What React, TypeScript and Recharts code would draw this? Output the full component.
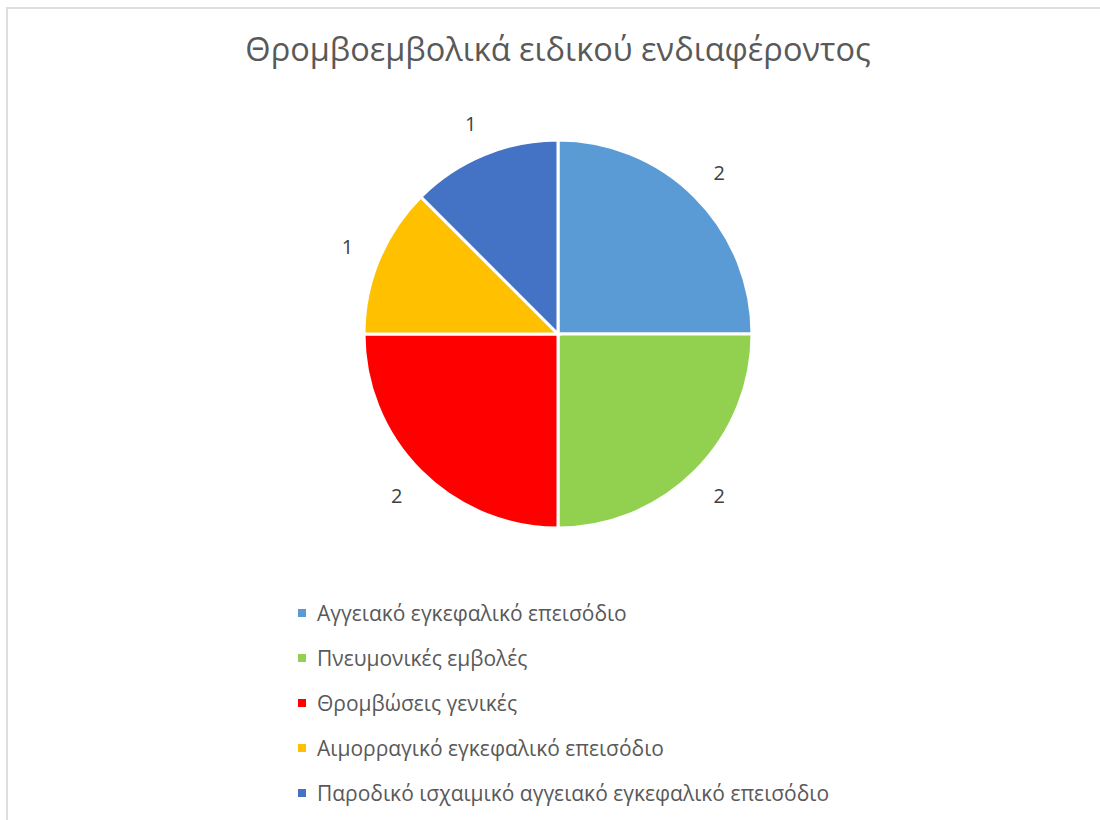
import { PieChart, Pie, Cell, Legend } from 'recharts';

const categories = [
  'Αγγειακό εγκεφαλικό επεισόδιο',
  'Πνευμονικές εμβολές',
  'Θρομβώσεις γενικές',
  'Αιμορραγικό εγκεφαλικό επεισόδιο',
  'Παροδικό ισχαιμικό αγγειακό εγκεφαλικό επεισόδιο',
];
const values = [2, 2, 2, 1, 1];
const colors = ['#5B9BD5', '#92D050', '#FF0000', '#FFC000', '#4472C4'];

const data = categories.map((name, i) => ({ name, value: values[i] }));

const FONT = '"Open Sans", "Noto Sans", sans-serif';
const RADIAN = Math.PI / 180;

const renderLabel = (props: any) => {
  const { cx, cy, midAngle, outerRadius, value } = props;
  const r = outerRadius + 34;
  const x = cx + r * Math.cos(-midAngle * RADIAN);
  const y = cy + r * Math.sin(-midAngle * RADIAN);
  return (
    <text x={x} y={y} fill="#404040" fontSize={20} fontFamily={FONT} textAnchor="middle" dominantBaseline="central">
      {value}
    </text>
  );
};

const renderLegend = () => (
  <div style={{ fontFamily: FONT, fontSize: 21, color: '#595959' }}>
    {categories.map((name, i) => (
      <div key={name} style={{ display: 'flex', alignItems: 'center', height: 45 }}>
        <span style={{ width: 8, height: 8, background: colors[i], marginRight: 11, display: 'inline-block' }} />
        <span>{name}</span>
      </div>
    ))}
  </div>
);

export default function App() {
  return (
    <div style={{ position: 'absolute', left: 0, top: 0, width: 1100, height: 820, background: '#fff', overflow: 'hidden' }}>
      <div
        style={{
          position: 'absolute',
          left: 6,
          top: 7,
          width: 1200,
          height: 900,
          border: '2px solid #dedede',
          boxSizing: 'border-box',
        }}
      />
      <div
        style={{
          position: 'absolute',
          left: 0,
          top: 26,
          width: 1116,
          textAlign: 'center',
          fontFamily: FONT,
          fontSize: 32.5,
          color: '#595959',
        }}
      >
        Θρομβοεμβολικά ειδικού ενδιαφέροντος
      </div>
      <div style={{ position: 'absolute', left: 0, top: 0 }}>
        <PieChart width={1100} height={820} margin={{ top: 0, right: 0, bottom: 0, left: 0 }}>
          <Pie
            data={data}
            dataKey="value"
            nameKey="name"
            cx={558}
            cy={334}
            outerRadius={194}
            startAngle={90}
            endAngle={-270}
            stroke="#ffffff"
            strokeWidth={3}
            label={renderLabel}
            labelLine={false}
            isAnimationActive={false}
          >
            {data.map((d, i) => (
              <Cell key={d.name} fill={colors[i]} />
            ))}
          </Pie>
          <Legend
            content={renderLegend}
            layout="vertical"
            wrapperStyle={{ position: 'absolute', left: 298, top: 590, width: 760 }}
          />
        </PieChart>
      </div>
    </div>
  );
}
